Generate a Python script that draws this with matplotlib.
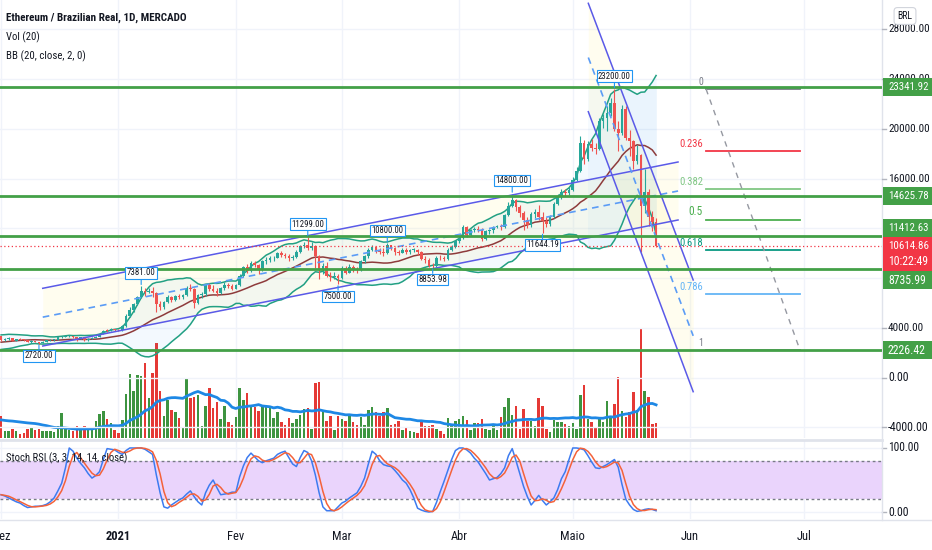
import numpy as np
import pandas as pd
import matplotlib
matplotlib.use('Agg')
import matplotlib.pyplot as plt
import matplotlib.transforms as mtransforms
from matplotlib import font_manager
from matplotlib.lines import Line2D
from matplotlib.patches import Rectangle

# pick the narrowest installed sans family (TradingView uses a condensed face)
_fonts = font_manager.fontManager.ttflist
_names = {f.name for f in _fonts}
FONT = None
for cand in ['Liberation Sans Narrow', 'Roboto Condensed', 'Open Sans Condensed', 'Arial Narrow']:
    if cand in _names:
        FONT = cand
        break
if FONT is None:
    if any(f.name == 'DejaVu Sans' and f.stretch == 'condensed' for f in _fonts):
        FONT = 'DejaVu Sans'
        plt.rcParams['font.stretch'] = 'condensed'
    elif 'Roboto' in _names:
        FONT = 'Roboto'
    else:
        FONT = 'DejaVu Sans'
plt.rcParams['font.family'] = [FONT, 'DejaVu Sans']

# ---- data (ETH/BRL daily, day 0 = 1 Dec 2020) ----
# closes of 12-30 Nov, only used to warm up the Bollinger bands / open of day 0
warmup_close = [2520, 2590, 2510, 2440, 2510, 2630, 2610, 2570, 2780, 3000,
                3060, 3320, 3300, 3110, 2830, 2820, 2940, 3140, 3360]
warmup_volume = [18, 15, 14, 16, 12, 14, 19, 17, 15, 21, 24, 20, 26, 22, 19, 24, 15, 13, 16]

close = [3050, 3110, 3200, 2960, 3090, 3060, 3020, 2860, 2940, 2880,
         2800, 2900, 3010, 3030, 3050, 3240, 3280, 3330, 3350, 3250,
         3120, 3240, 3010, 3150, 3230, 3290, 3530, 3790, 3750, 3890,
         3830, 3800, 4130, 4950, 5450, 5900, 6500, 6950, 6900, 7000,
         6800, 5900, 5650, 6100, 6500, 6250, 6550, 6500, 6650, 7250,
         7150, 6000, 6650, 6700, 7450, 7150, 7000, 6800, 7200, 7450,
         7400, 7150, 7450, 8200, 8900, 8600, 9250, 9050, 8750, 9350,
         9500, 9600, 9650, 10000, 9850, 9800, 9650, 9700, 10100, 10550,
         10700, 10450, 10600, 9800, 8700, 9000, 8200, 8100, 8200, 8000,
         8850, 8450, 8900, 8700, 8650, 9350, 9750, 10300, 10500, 10150,
         10100, 10000, 10650, 10400, 10100, 10050, 10300, 10100, 10250, 10300,
         10100, 9550, 9450, 9000, 8950, 9650, 9600, 9550, 10300, 10500,
         10950, 11200, 12100, 11500, 11850, 11950, 11900, 11150, 11800, 11850,
         12100, 12200, 12100, 13050, 13800, 14250, 13750, 13250, 12650, 12250,
         13150, 13350, 12950, 12600, 12350, 12900, 14000, 14550, 14950, 14850,
         15050, 15900, 16600, 18900, 17600, 18800, 18500, 18400, 20600, 20900,
         21300, 22100, 20000, 19700, 21600, 19300, 19000, 17400, 17900, 13800,
         14900, 12900, 12500, 10614.86]

high = [3330, 3180, 3260, 3220, 3120, 3160, 3150, 3060, 3000, 2960,
        2900, 2930, 3050, 3080, 3090, 3270, 3350, 3380, 3420, 3380,
        3280, 3270, 3260, 3190, 3280, 3330, 3600, 3850, 3880, 3960,
        3950, 3900, 4250, 5150, 5650, 6000, 6600, 7381, 7200, 7250,
        7300, 6900, 6200, 6200, 6650, 6600, 6650, 6700, 6750, 7350,
        7500, 7250, 6750, 6850, 7550, 7650, 7450, 7200, 7300, 7700,
        7650, 7500, 7550, 8300, 9000, 9100, 9350, 9400, 9150, 9450,
        9700, 9750, 9800, 10100, 10150, 10000, 9950, 9850, 10250, 10700,
        10900, 11299, 10900, 10700, 9900, 9200, 9300, 8500, 8500, 8350,
        8950, 8950, 9100, 9050, 8900, 9450, 9850, 10400, 10650, 10600,
        10450, 10400, 10800, 10700, 10500, 10300, 10450, 10400, 10350, 10400,
        10350, 10150, 9750, 9600, 9200, 9750, 9850, 9750, 10400, 10650,
        11050, 11300, 12250, 12200, 11950, 12100, 12200, 12000, 11900, 11950,
        12200, 12300, 12350, 13150, 14100, 14800, 14400, 13900, 13400, 12900,
        13300, 13550, 13900, 13300, 12900, 13100, 14150, 14800, 15150, 15200,
        15300, 16100, 16900, 19400, 19100, 19000, 19200, 18900, 20900, 21200,
        21800, 22500, 23200, 20600, 21900, 21800, 19900, 19100, 18700, 18000,
        16800, 15200, 13400, 12800]

low = [2980, 2980, 3070, 2920, 2940, 3020, 2990, 2830, 2800, 2830,
       2720, 2780, 2880, 2950, 2980, 3020, 3180, 3240, 3290, 3200,
       2980, 3090, 2950, 2990, 3120, 3200, 3270, 3500, 3680, 3720,
       3740, 3720, 3780, 4100, 4900, 5300, 5850, 6400, 6600, 6800,
       6500, 5300, 5450, 5500, 6000, 6050, 6150, 6300, 6350, 6600,
       7000, 5600, 5900, 6400, 6600, 7000, 6900, 6600, 6750, 7050,
       7250, 7050, 7100, 7400, 8100, 8400, 8500, 8900, 8300, 8600,
       9150, 9300, 9400, 9600, 9700, 9600, 9400, 9450, 9600, 10050,
       10450, 10300, 10300, 8800, 7900, 8300, 8100, 7800, 7950, 7500,
       7950, 8300, 8400, 8500, 8400, 8600, 9200, 9650, 10200, 10000,
       9950, 9800, 9950, 10300, 9900, 9900, 10000, 9950, 9950, 10100,
       9900, 9450, 9250, 8900, 8853.98, 8900, 9450, 9400, 9500, 10200,
       10400, 10850, 11150, 11300, 11400, 11700, 11750, 11000, 11100, 11550,
       11650, 12000, 11900, 12050, 13000, 13700, 13400, 12900, 11900, 12050,
       12100, 12850, 12700, 11644.19, 12100, 12200, 12850, 13900, 14400, 14600,
       14700, 15000, 15800, 16500, 17200, 17400, 18200, 18000, 18300, 20100,
       19800, 21000, 19800, 18200, 19500, 19100, 17800, 16800, 17200, 10100,
       13200, 12200, 11800, 10500]

volume = [22, 7, 7, 9, 7, 4, 5, 9, 11, 8,
          9, 7, 7, 7, 6, 12, 25, 9, 8, 7,
          12, 8, 12, 8, 8, 17, 24, 27, 19, 15,
          8, 5, 18, 44, 64, 47, 63, 62, 75, 40,
          65, 95, 47, 22, 38, 28, 26, 20, 11, 60,
          40, 41, 43, 12, 32, 50, 30, 36, 19, 32,
          16, 13, 21, 50, 38, 45, 32, 31, 27, 33,
          33, 32, 20, 26, 16, 13, 20, 15, 19, 23,
          29, 30, 9, 55, 56, 27, 17, 22, 8, 22,
          19, 17, 22, 16, 13, 21, 13, 28, 31, 26,
          22, 26, 30, 13, 14, 17, 8, 10, 7, 6,
          5, 16, 12, 12, 13, 9, 7, 4, 20, 14,
          17, 19, 22, 18, 8, 15, 15, 19, 9, 8,
          12, 8, 21, 31, 40, 23, 32, 9, 29, 17,
          17, 12, 40, 32, 9, 6, 18, 16, 16, 14,
          12, 15, 9, 43, 53, 19, 16, 11, 21, 16,
          37, 21, 34, 61, 27, 21, 26, 46, 28, 109,
          47, 41, 14, 15]

stoch_k = [27, 25, 22, 19, 16, 14, 10, 7, 8, 9,
           9, 10, 12, 16, 22, 33, 45, 69, 100, 95,
           84, 76, 69, 60, 53, 57, 63, 82, 99, 98,
           97, 93, 90, 96, 100, 100, 100, 100, 98, 94,
           90, 58, 30, 8, 6, 11, 15, 19, 22, 28,
           33, 24, 16, 11, 30, 42, 50, 38, 27, 28,
           29, 31, 31, 55, 72, 85, 92, 86, 80, 77,
           80, 82, 84, 90, 93, 95, 85, 75, 71, 85,
           96, 93, 80, 58, 30, 8, 2, 2, 2, 8,
           14, 17, 22, 26, 30, 40, 53, 75, 95, 90,
           80, 74, 72, 71, 65, 58, 50, 45, 35, 22,
           6, 3, 1, 0, 1, 15, 32, 48, 65, 82,
           96, 100, 100, 97, 92, 84, 78, 69, 60, 50,
           52, 54, 60, 69, 88, 99, 80, 60, 40, 24,
           11, 18, 26, 18, 11, 16, 22, 35, 52, 63,
           82, 100, 100, 99, 97, 88, 78, 69, 68, 71,
           74, 78, 82, 70, 43, 20, 11, 4, 1, 2,
           4, 5, 4, 2]

# swing labels drawn on the chart: (day, price, side)
pivots = [(10, 2720.00, 'low'), (37, 7381.00, 'high'), (81, 11299.00, 'high'),
          (89, 7500.00, 'low'), (102, 10800.00, 'high'), (114, 8853.98, 'low'),
          (135, 14800.00, 'high'), (143, 11644.19, 'low'), (162, 23200.00, 'high')]

levels = [23341.92, 14625.78, 11412.63, 8735.99, 2226.42]
level_label_shift = {11412.63: 8, 8735.99: -11}   # pixels, labels pushed apart
last_price = 10614.86
countdown = '10:22:49'

# user drawings (day, price anchors)
up_days = [11.0, 178.8]
up_top = [7186, 17338]
up_bottom = [2548, 12677]
down_days = [155.1, 182.8]
down_top = [30094, 7853]
down_bottom = [21381, -1125]
box_days = [155.1, 173.2]
box_prices = [10614.86, 23341.92]
fib_days = [186.2, 211.0]
fib_high, fib_low = 23200.0, 2226.42
fib_ratios = [0, 0.236, 0.382, 0.5, 0.618, 0.786, 1]
fib_colors = ['#787b86', '#f23645', '#81c784', '#4caf50', '#089981', '#64b5f6', '#787b86']

month_days = [0, 31, 62, 90, 121, 151, 182, 212]
month_labels = ['Dez', '2021', 'Fev', 'Mar', 'Abr', 'Maio', 'Jun', 'Jul']
price_ticks = [28000, 24000, 20000, 16000, 4000, 0, -4000]

# ---- derived ----
n = len(close)
days = np.arange(n)
c = np.array(close, float)
o = np.r_[warmup_close[-1], c[:-1]]
h = np.maximum(np.array(high, float), np.maximum(o, c))
l = np.minimum(np.array(low, float), np.minimum(o, c))
up = c >= o

allc = pd.Series(warmup_close + close, dtype=float)
basis = allc.rolling(20).mean().values[-n:]
dev = allc.rolling(20).std(ddof=0).values[-n:]
bb_up, bb_lo = basis + 2 * dev, basis - 2 * dev
vol_ma = pd.Series(warmup_volume + volume, dtype=float).rolling(20, min_periods=1).mean().values[-n:]
k = np.array(stoch_k, float)
d = pd.Series(k).rolling(3, min_periods=1).mean().values

# ---- figure ----
W, H = 932, 550
fig = plt.figure(figsize=(W / 100, H / 100), dpi=100)


def rect(x0, y0, x1, y1):
    return [x0 / W, 1 - y1 / H, (x1 - x0) / W, (y1 - y0) / H]


axv = fig.add_axes(rect(0, 0, 882, 438))
ax = fig.add_axes(rect(0, 0, 882, 438), sharex=axv)
ax_st = fig.add_axes(rect(0, 441, 882, 519), sharex=axv)
ax.set_zorder(2)
ax.patch.set_visible(False)
for a in (axv, ax, ax_st):
    for s in a.spines.values():
        s.set_visible(False)
    a.tick_params(left=False, bottom=False, labelleft=False, labelbottom=False)

XMIN, XMAX = -0.29, 232.67
YMIN, YMAX = -4847, 30360
ax.set_xlim(XMIN, XMAX)
ax.set_ylim(YMIN, YMAX)
axv.set_ylim(0, 438)
ax_st.set_ylim(-10.9, 110.9)
ppx = (YMAX - YMIN) / 438.0   # price units per pixel

fit_list = []   # (text, target width in px)

grid = '#f0f3fa'
for md in month_days:
    axv.axvline(md, color=grid, lw=1, zorder=0)
    ax_st.axvline(md, color=grid, lw=1, zorder=0)
for p in range(-4000, 30001, 4000):
    ax.axhline(p, color=grid, lw=1, zorder=0)

# volume
vcol = np.where(up, '#3d9440', '#e53935')
axv.bar(days, volume, width=0.66, color=vcol, linewidth=0, zorder=2)
axv.plot(days, vol_ma, color='#1e88e5', lw=2, zorder=3)

# channel fills and box
ax.fill_between(up_days, up_top, up_bottom, color='#fff59d', alpha=0.16, lw=0, zorder=0.5)
ax.fill_between(down_days, down_top, down_bottom, color='#fff59d', alpha=0.16, lw=0, zorder=0.5)
ax.add_patch(Rectangle((box_days[0], box_prices[0]), box_days[1] - box_days[0],
                       box_prices[1] - box_prices[0], fc='#2196f3', alpha=0.045, lw=0, zorder=0.6))

# Bollinger bands
ax.fill_between(days, bb_up, bb_lo, color='#2196f3', alpha=0.05, lw=0, zorder=1)
ax.plot(days, bb_up, color='#22a083', lw=1.1, zorder=3)
ax.plot(days, bb_lo, color='#22a083', lw=1.1, zorder=3)
ax.plot(days, basis, color='#8e3b3b', lw=1.1, zorder=3)

# candles
ccol = np.where(up, '#26a69a', '#ef5350')
ax.vlines(days, l, h, colors=ccol, lw=0.8, zorder=4)
ax.bar(days, np.maximum(np.abs(c - o), 60), bottom=np.minimum(o, c), width=0.7,
       color=ccol, linewidth=0, zorder=5)

# channels
blue = '#5a5ae8'
for dd, top, bot in ((up_days, up_top, up_bottom), (down_days, down_top, down_bottom)):
    ax.plot(dd, top, color=blue, lw=1.1, zorder=6)
    ax.plot(dd, bot, color=blue, lw=1.1, zorder=6)
    ax.plot(dd, [(a + b) / 2 for a, b in zip(top, bot)], color='#5b9cf6', lw=1.2,
            ls=(0, (4, 3)), zorder=6)

# horizontal levels and last price
for lv in levels:
    ax.axhline(lv, color='#43a047', lw=2, zorder=7)
ax.axhline(last_price, color='#f23645', lw=0.9, ls=(0, (1, 2)), zorder=7)

# fibonacci retracement
for r, col in zip(fib_ratios, fib_colors):
    p = fib_high - r * (fib_high - fib_low)
    ax.plot(fib_days, [p, p], color=col, lw=1.3, zorder=6)
    t = ax.annotate(f'{r:g}', xy=(fib_days[0], p), xytext=(-3, 2), textcoords='offset pixels',
                    ha='right', va='bottom', color=col, fontsize=8.5, zorder=6)
    fit_list.append((t, 4.8 * len(f'{r:g}')))
ax.plot(fib_days, [fib_high, fib_low], color='#9598a1', lw=1, ls=(0, (4, 4)), zorder=6)

# swing labels
for dx, p, side in pivots:
    dy = 13 if side == 'high' else -12
    t = ax.annotate(f'{p:.2f}', xy=(dx, p), xytext=(0, dy), textcoords='offset pixels',
                    ha='center', va='center', fontsize=7.5, color='#131722', zorder=9,
                    bbox=dict(boxstyle='square,pad=0.15', fc='white', ec='#2196f3', lw=0.8),
                    arrowprops=dict(arrowstyle='-', color='#2196f3', lw=0.8, shrinkA=0, shrinkB=1))
    fit_list.append((t, 4.1 * len(f'{p:.2f}')))

# price scale
tr = mtransforms.blended_transform_factory(ax.transAxes, ax.transData)
xa = 1 + 6 / 882
for p in price_ticks:
    ax.plot([1, 1 + 4 / 882], [p, p], transform=tr, clip_on=False, color='#b2b5be', lw=1)
    t = ax.text(xa, p, f'{p:.2f}', transform=tr, ha='left', va='center', fontsize=8.5,
                color='#131722', clip_on=False)
    fit_list.append((t, 5.2 * len(f'{p:.2f}')))
bw = 50 / 882
for lv in levels:
    yc = lv + level_label_shift.get(lv, 0) * ppx
    ax.add_patch(Rectangle((1 + 1 / 882, yc - 9 * ppx), bw, 18 * ppx, transform=tr,
                           fc='#43a047', lw=0, clip_on=False, zorder=10))
    t = ax.text(xa, yc, f'{lv:.2f}', transform=tr, ha='left', va='center', fontsize=8.5,
                color='white', clip_on=False, zorder=11)
    fit_list.append((t, 41))
ax.add_patch(Rectangle((1 + 1 / 882, last_price - 25 * ppx), bw, 34 * ppx, transform=tr,
                       fc='#f23645', lw=0, clip_on=False, zorder=10))
t = ax.text(xa, last_price, f'{last_price:.2f}', transform=tr, ha='left', va='center',
            fontsize=8.5, color='white', clip_on=False, zorder=11)
fit_list.append((t, 41))
t = ax.text(xa, last_price - 16 * ppx, countdown, transform=tr, ha='left', va='center',
            fontsize=8.5, color='white', clip_on=False, zorder=11)
fit_list.append((t, 40))

# stoch rsi pane
ax_st.axhspan(20, 80, color='#ead4fc', lw=0, zorder=0)
for lv in (80, 20):
    ax_st.axhline(lv, color='#787b86', lw=1, ls=(0, (2, 2)), zorder=1)
for lv in (100, 0):
    ax_st.axhline(lv, color=grid, lw=1, zorder=0)
ax_st.plot(days, k, color='#3d7bf0', lw=1.1, zorder=3)
ax_st.plot(days, d, color='#f4623a', lw=1.1, zorder=3)
trs = mtransforms.blended_transform_factory(ax_st.transAxes, ax_st.transData)
for p in (100, 0):
    ax_st.plot([1, 1 + 4 / 882], [p, p], transform=trs, clip_on=False, color='#b2b5be', lw=1)
    t = ax_st.text(xa, p, f'{p:.2f}', transform=trs, ha='left', va='center', fontsize=8.5,
                   color='#131722', clip_on=False)
    fit_list.append((t, 5.2 * len(f'{p:.2f}')))

# time axis
trt = mtransforms.blended_transform_factory(ax_st.transData, fig.transFigure)
for md, lab in zip(month_days, month_labels):
    t = ax_st.text(md, 1 - 537 / H, lab, transform=trt, ha='center', va='center', fontsize=9,
                   color='#131722', fontweight='bold' if lab == '2021' else 'normal', clip_on=False)
    fit_list.append((t, 6.5 * len(lab)))

# pane borders
sep = '#e0e3eb'
fig.add_artist(Line2D([0, 882 / W], [1 - 439.5 / H] * 2, color=sep, lw=2))
fig.add_artist(Line2D([0, 1], [1 - 519.5 / H] * 2, color=sep, lw=1))
fig.add_artist(Line2D([882 / W] * 2, [1 - 519.5 / H, 1], color=sep, lw=1))

# legends
t = fig.text(6 / W, 1 - 18 / H, 'Ethereum / Brazilian Real, 1D, MERCADO', ha='left', va='center',
             fontsize=9.5, color='#131722', fontweight='bold')
fit_list.append((t, 182))
t = fig.text(6 / W, 1 - 37 / H, 'Vol (20)', ha='left', va='center', fontsize=9.5, color='#131722')
fit_list.append((t, 34))
t = fig.text(6 / W, 1 - 56 / H, 'BB (20, close, 2, 0)', ha='left', va='center', fontsize=9.5,
             color='#131722')
fit_list.append((t, 80))
t = fig.text(6 / W, 1 - 458 / H, 'Stoch RSI (3, 3, 14, 14, close)', ha='left', va='center',
             fontsize=9, color='#131722')
fit_list.append((t, 122))
t = fig.text(905 / W, 1 - 16 / H, 'BRL', ha='center', va='center', fontsize=7.5, color='#131722',
             bbox=dict(boxstyle='round,pad=0.35', fc='white', ec='#d1d4dc', lw=0.8))
fit_list.append((t, 15))

# shrink texts whose rendered width exceeds the width seen in the chart
fig.canvas.draw()
renderer = fig.canvas.get_renderer()
for t, target in fit_list:
    for _ in range(2):
        wpx = t.get_window_extent(renderer).width
        if wpx > target:
            t.set_fontsize(t.get_fontsize() * target / wpx)

fig.savefig('out.png', dpi=100)
